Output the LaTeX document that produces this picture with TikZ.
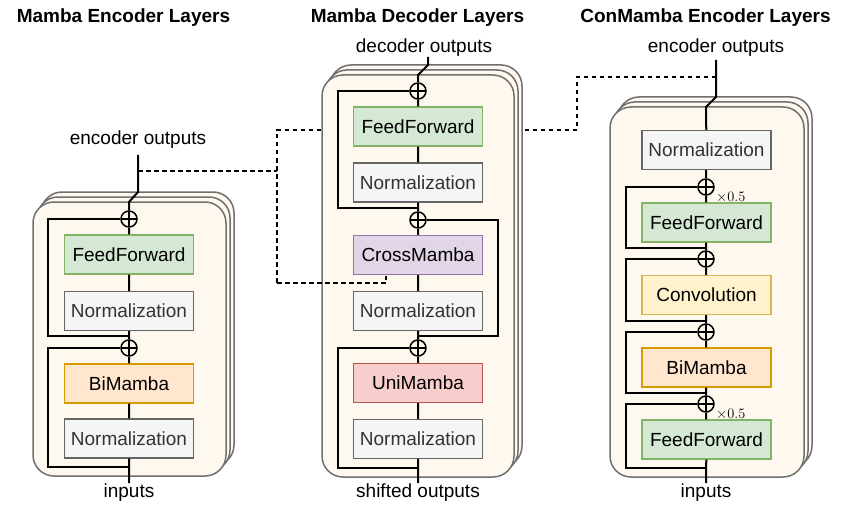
\documentclass[tikz,border=0pt]{standalone}
\usepackage[no-math]{fontspec}
\setmainfont{Liberation Sans}
\usetikzlibrary{calc}
\definecolor{ffF}{HTML}{D5E8D4}\definecolor{ffD}{HTML}{82B366}
\definecolor{nmF}{HTML}{F5F5F5}\definecolor{nmD}{HTML}{666666}\definecolor{nmT}{HTML}{333333}
\definecolor{bmF}{HTML}{FFE6CC}\definecolor{bmD}{HTML}{D79B00}
\definecolor{cmF}{HTML}{E1D5E7}\definecolor{cmD}{HTML}{9673A6}
\definecolor{umF}{HTML}{F8CECC}\definecolor{umD}{HTML}{B85450}
\definecolor{cvF}{HTML}{FFF2CC}\definecolor{cvD}{HTML}{D6B656}
\definecolor{frF}{HTML}{FFF8EE}\definecolor{frD}{HTML}{707070}
\newcommand\layerstack[4]{%
  \foreach \k in {2,1,0}{%
    \draw[frame] ({#1+4*\k},{#2-5*\k}) rectangle ({#3+4*\k},{#4-5*\k});}}
\tikzset{
  blk/.style={draw, line width=1.4pt, minimum width=129pt, minimum height=39pt, inner sep=0pt,
    font=\fontsize{19}{21}\selectfont},
  ffbox/.style={blk, fill=ffF, draw=ffD},
  nmbox/.style={blk, fill=nmF, draw=nmD, text=nmT},
  bmbox/.style={blk, fill=bmF, draw=bmD},
  cmbox/.style={blk, fill=cmF, draw=cmD},
  umbox/.style={blk, fill=umF, draw=umD},
  cvbox/.style={blk, fill=cvF, draw=cvD},
  plus/.style={circle, draw, line width=1.5pt, minimum size=16pt, inner sep=0pt, fill=frF,
    path picture={\draw[line width=1.5pt] (path picture bounding box.north) -- (path picture bounding box.south)
      (path picture bounding box.west) -- (path picture bounding box.east);}},
  frame/.style={draw=frD, fill=frF, line width=1.5pt, rounded corners=21pt},
  wire/.style={line width=2pt, line join=miter},
  dsh/.style={line width=1.5pt, dash pattern=on 4.5pt off 3.5pt},
  lbl/.style={inner sep=0pt, anchor=base, font=\fontsize{19}{21}\selectfont},
  ttl/.style={inner sep=0pt, anchor=base, font=\fontsize{19}{21}\selectfont\bfseries},
  half/.style={inner sep=0pt, anchor=west, font=\fontsize{14}{16}\selectfont},
}
\begin{document}
\begin{tikzpicture}[x=1pt,y=-1pt]
\useasboundingbox (0,0) rectangle (853,505);

% titles
\node[ttl] (t1) at (123.5,23) {Mamba Encoder Layers};
\node[ttl] (t2) at (417.5,23) {Mamba Decoder Layers};
\node[ttl] (t3) at (705.5,23) {ConMamba Encoder Layers};

% dashed connections (behind frames)
\coordinate (rdash) at (716,77);
\coordinate (d1) at (577,77);
\coordinate (d2) at (577,130);
\coordinate (d3) at (277,130);
\coordinate (d4) at (277,283);
\coordinate (d5) at (386,283);
\coordinate (cmin) at (386,274);
\coordinate (ldash) at (138,171);
\coordinate (d6) at (277,171);
\draw[dsh] (rdash) -- (d1) -- (d2) -- (d3) -- (d4);
\draw[dsh] (ldash) -- (d6);

% frames
\layerstack{33}{202}{226}{476}
\layerstack{322}{75}{514}{477}
\layerstack{610}{107}{804}{477}

% ---------------- left: Mamba encoder ----------------
\coordinate (lbot) at (129,483);
\coordinate (ltop1) at (129,202);
\coordinate (ltop2) at (138,192);
\coordinate (lout) at (138,155);
\coordinate (lc1) at (48,336); \coordinate (lj1) at (129,336);
\coordinate (lc2) at (48,467); \coordinate (lj2) at (129,467);
\node[plus] (lp1) at (129,219) {};
\node[ffbox] (lff) at (129,254.5) {FeedForward};
\node[nmbox] (ln2) at (129,311) {Normalization};
\node[plus] (lp2) at (129,348) {};
\node[bmbox] (lbm) at (129,383.5) {BiMamba};
\node[nmbox] (ln1) at (129,438.5) {Normalization};
\draw[wire] (lbot) -- (ln1) (ln1) -- (lbm) (lbm) -- (lp2) (lp2) -- (ln2) (ln2) -- (lff) (lff) -- (lp1)
  (lp1) -- (ltop1) -- (ltop2) -- (lout);
\draw[wire] (lp1.west) -| (lc1) -- (lj1);
\draw[wire] (lp2.west) -| (lc2) -- (lj2);
\node[lbl] (lo) at (138,145) {encoder outputs};
\node[lbl] (li) at (129,497) {inputs};

% ---------------- middle: Mamba decoder ----------------
\coordinate (mbot) at (418,483);
\coordinate (mtop1) at (418,75);
\coordinate (mtop2) at (428,65);
\coordinate (mout) at (428,57);
\coordinate (mc1) at (338,208); \coordinate (mj1) at (418,208);
\coordinate (mc2) at (498,336); \coordinate (mj2) at (418,336);
\coordinate (mc3) at (338,468); \coordinate (mj3) at (418,468);
\node[plus] (mp1) at (418,91) {};
\node[ffbox] (mff) at (418,126.5) {FeedForward};
\node[nmbox] (mn3) at (418,182.5) {Normalization};
\node[plus] (mp2) at (418,220) {};
\node[cmbox] (mcm) at (418,255) {CrossMamba};
\node[nmbox] (mn2) at (418,311) {Normalization};
\node[plus] (mp3) at (418,348) {};
\node[umbox] (mum) at (418,383) {UniMamba};
\node[nmbox] (mn1) at (418,439) {Normalization};
\draw[wire] (mbot) -- (mn1) (mn1) -- (mum) (mum) -- (mp3) (mp3) -- (mn2) (mn2) -- (mcm) (mcm) -- (mp2)
  (mp2) -- (mn3) (mn3) -- (mff) (mff) -- (mp1) (mp1) -- (mtop1) -- (mtop2) -- (mout);
\draw[wire] (mp1.west) -| (mc1) -- (mj1);
\draw[wire] (mp2.east) -| (mc2) -- (mj2);
\draw[wire] (mp3.west) -| (mc3) -- (mj3);
\node[lbl] (mo) at (424,53) {decoder outputs};
\node[lbl] (mi) at (418,497) {shifted outputs};

% front part of the dashed connection
\draw[dsh] (d4) -- (d5) -- (cmin);

% ---------------- right: ConMamba encoder ----------------
\coordinate (rbot) at (706,483);
\coordinate (rtop1) at (706,107);
\coordinate (rtop2) at (716,97);
\coordinate (rout) at (716,60);
\coordinate (rc1) at (626,248); \coordinate (rj1) at (706,248);
\coordinate (rc2) at (626,321); \coordinate (rj2) at (706,321);
\coordinate (rc3) at (626,393); \coordinate (rj3) at (706,393);
\coordinate (rc4) at (626,468); \coordinate (rj4) at (706,468);
\node[nmbox] (rn) at (706.5,150) {Normalization};
\node[plus] (rp1) at (706,187) {};
\node[ffbox] (rff1) at (706.5,222.5) {FeedForward};
\node[plus] (rp2) at (706,259) {};
\node[cvbox] (rcv) at (706.5,295) {Convolution};
\node[plus] (rp3) at (706,332) {};
\node[bmbox] (rbm) at (706.5,367.5) {BiMamba};
\node[plus] (rp4) at (706,404) {};
\node[ffbox] (rff2) at (706.5,439.5) {FeedForward};
\draw[wire] (rbot) -- (rff2) (rff2) -- (rp4) (rp4) -- (rbm) (rbm) -- (rp3) (rp3) -- (rcv) (rcv) -- (rp2)
  (rp2) -- (rff1) (rff1) -- (rp1) (rp1) -- (rn) (rn) -- (rtop1) -- (rtop2) -- (rout);
\draw[wire] (rp1.west) -| (rc1) -- (rj1);
\draw[wire] (rp2.west) -| (rc2) -- (rj2);
\draw[wire] (rp3.west) -| (rc3) -- (rj3);
\draw[wire] (rp4.west) -| (rc4) -- (rj4);
\node[half] (h1) at (716,197) {$\times 0.5$};
\node[half] (h2) at (716,414) {$\times 0.5$};
\node[lbl] (ro) at (716,53) {encoder outputs};
\node[lbl] (ri) at (706,497) {inputs};
\end{tikzpicture}
\end{document}
